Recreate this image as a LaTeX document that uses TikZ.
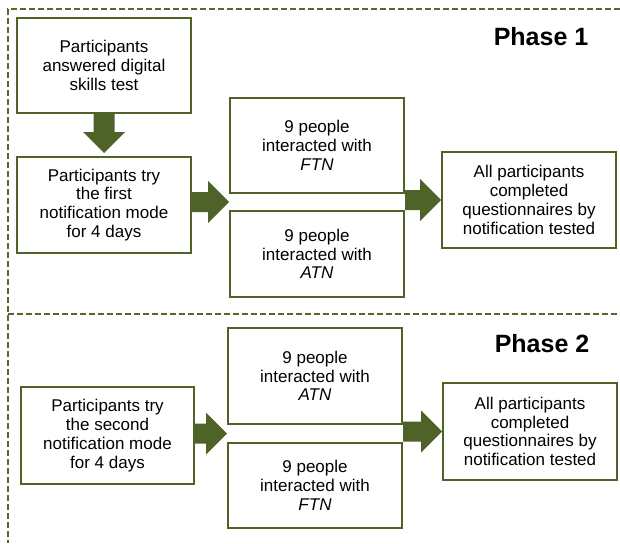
\documentclass[tikz,border=0pt]{standalone}
\usepackage{fontspec}
\setmainfont{Liberation Sans}
\usetikzlibrary{calc}
\definecolor{olive}{HTML}{4F6228}
\definecolor{framegreen}{HTML}{526A2A}
\tikzset{
  stepbox/.style={draw=olive, line width=2pt, fill=white, inner sep=0pt,
    minimum width=174pt, align=center,
    font=\fontsize{17}{18.8}\selectfont},
  phaselabel/.style={font=\fontsize{25}{28}\selectfont\bfseries, inner sep=0pt},
  frameline/.style={draw=framegreen, line width=2.2pt, dash pattern=on 6pt off 3pt},
  arrowfill/.style={fill=olive}
}
% horizontal block arrow: shaft starts at x of #1, tip at #2
\newcommand{\blockright}[2]{%
  \fill[arrowfill] let \p1=(#1), \p2=(#2) in
    (\x1,\y2+10pt) -- (\x2-21pt,\y2+10pt) -- (\x2-21pt,\y2+21pt) -- (\x2,\y2)
    -- (\x2-21pt,\y2-21pt) -- (\x2-21pt,\y2-10pt) -- (\x1,\y2-10pt) -- cycle;}
% vertical block arrow pointing down: shaft starts at y of #1, tip at #2
\newcommand{\blockdown}[2]{%
  \fill[arrowfill] let \p1=(#1), \p2=(#2) in
    (\x2-10.5pt,\y1) -- (\x2-10.5pt,\y2+21pt) -- (\x2-21pt,\y2+21pt) -- (\x2,\y2)
    -- (\x2+21pt,\y2+21pt) -- (\x2+10.5pt,\y2+21pt) -- (\x2+10.5pt,\y1) -- cycle;}
\begin{document}
\begin{tikzpicture}[x=1pt,y=-1pt]
\useasboundingbox (0,0) rectangle (620,543);

% phase frames
\draw[frameline] (620,9) -- (8,9) -- (8,543);
\draw[frameline] (8,314) -- (620,314);

% phase 1
\node[phaselabel] (p1) at (541,37) {Phase 1};
\node[stepbox, minimum height=95pt] (test) at (104,65.5)
  {Participants\\answered digital\\skills test};
\node[stepbox, minimum height=96pt] (first) at (104,205)
  {Participants try\\the first\\notification mode\\for 4 days};
\node[stepbox, minimum height=95pt] (ftnA) at (317,145.5)
  {9 people\\interacted with\\\textit{FTN}};
\node[stepbox, minimum height=86pt] (atnA) at (317,254)
  {9 people\\interacted with\\\textit{ATN}};
\node[stepbox, minimum height=96pt] (doneA) at (529,200)
  {All participants\\completed\\questionnaires by\\notification tested};

\coordinate (gapAl) at ($(ftnA.south west)!0.5!(atnA.north west)$);
\coordinate (gapAr) at ($(ftnA.south east)!0.5!(atnA.north east)$);
\blockdown{test.south}{[yshift=3pt]first.north}
\blockright{first.east}{gapAl}
\blockright{gapAr}{doneA.west}

% phase 2
\node[phaselabel] (p2) at (542,344) {Phase 2};
\node[stepbox, minimum height=97pt, minimum width=173pt] (second) at (107.5,435.5)
  {Participants try\\the second\\notification mode\\for 4 days};
\node[stepbox, minimum height=96pt] (atnB) at (315,376)
  {9 people\\interacted with\\\textit{ATN}};
\node[stepbox, minimum height=85pt] (ftnB) at (315,485.5)
  {9 people\\interacted with\\\textit{FTN}};
\node[stepbox, minimum height=97pt] (doneB) at (530,431.5)
  {All participants\\completed\\questionnaires by\\notification tested};

\coordinate (gapBl) at ($(atnB.south west)!0.5!(ftnB.north west)$);
\coordinate (gapBr) at ($(atnB.south east)!0.5!(ftnB.north east)$);
\blockright{second.east}{gapBl}
\blockright{gapBr}{doneB.west}
\end{tikzpicture}
\end{document}
